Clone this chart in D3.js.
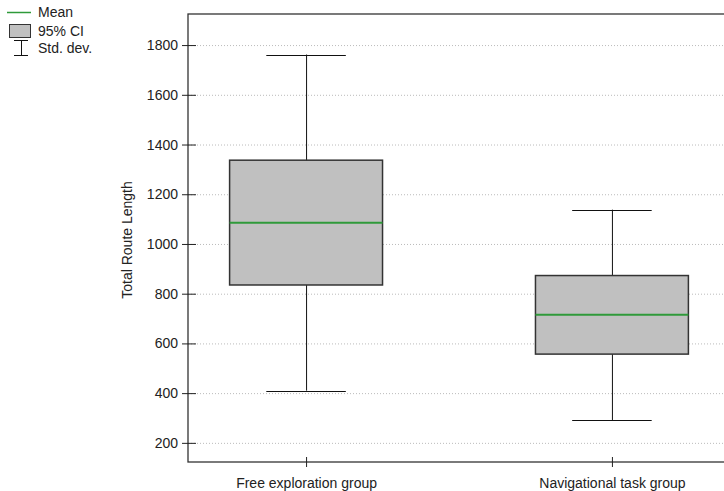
<!DOCTYPE html>
<html>
<head>
<meta charset="utf-8">
<script src="https://cdn.jsdelivr.net/npm/d3@7"></script>
<style>
  body { margin: 0; background: #fff; }
  text { font-family: "Liberation Sans", Arial, sans-serif; font-size: 14px; fill: #222; }
</style>
</head>
<body>
<div id="chart"></div>
<script>
// data
var groups = ["Free exploration group", "Navigational task group"];
var means = [1085, 715];
var ciLow = [835, 557];
var ciHigh = [1337, 873];
var sdLow = [410, 292];
var sdHigh = [1762, 1138];
var yTicks = [200, 400, 600, 800, 1000, 1200, 1400, 1600, 1800];

var W = 724, H = 491;
var margin = {top: 14, left: 188, bottom: 29};
var plotW = 542, plotH = H - margin.top - margin.bottom;

var svg = d3.select("#chart").append("svg")
  .attr("width", W).attr("height", H);

var g = svg.append("g")
  .attr("transform", "translate(" + margin.left + "," + margin.top + ")");

var x = d3.scalePoint().domain(groups).range([0, plotW]).padding(0.386);
var y = d3.scaleLinear().domain([123, 1925]).range([plotH, 0]);
var step = x.step();

// grid
g.selectAll(".grid").data(yTicks).enter().append("line")
  .attr("x1", 0).attr("x2", plotW)
  .attr("y1", function(d) { return y(d) + 0.5; })
  .attr("y2", function(d) { return y(d) + 0.5; })
  .attr("stroke", "#bbb").attr("stroke-dasharray", "1,2");

// whiskers
var idx = d3.range(groups.length);
var wh = g.selectAll(".wh").data(idx).enter().append("g");
wh.append("line")
  .attr("x1", function(i) { return x(groups[i]) + 0.5; })
  .attr("x2", function(i) { return x(groups[i]) + 0.5; })
  .attr("y1", function(i) { return y(sdHigh[i]); })
  .attr("y2", function(i) { return y(sdLow[i]); })
  .attr("stroke", "#111");
[sdHigh, sdLow].forEach(function(arr) {
  wh.append("line")
    .attr("x1", function(i) { return x(groups[i]) - step * 0.13; })
    .attr("x2", function(i) { return x(groups[i]) + step * 0.13; })
    .attr("y1", function(i) { return Math.round(y(arr[i])) + 0.5; })
    .attr("y2", function(i) { return Math.round(y(arr[i])) + 0.5; })
    .attr("stroke", "#111");
});

// CI boxes
g.selectAll(".box").data(idx).enter().append("rect")
  .attr("x", function(i) { return x(groups[i]) - step * 0.25; })
  .attr("width", step * 0.5)
  .attr("y", function(i) { return y(ciHigh[i]); })
  .attr("height", function(i) { return y(ciLow[i]) - y(ciHigh[i]); })
  .attr("fill", "#c0c0c0").attr("stroke", "#333").attr("stroke-width", 1.5);

// means
g.selectAll(".mean").data(idx).enter().append("line")
  .attr("x1", function(i) { return x(groups[i]) - step * 0.25; })
  .attr("x2", function(i) { return x(groups[i]) + step * 0.25; })
  .attr("y1", function(i) { return y(means[i]); })
  .attr("y2", function(i) { return y(means[i]); })
  .attr("stroke", "#2f9a3a").attr("stroke-width", 2);

// frame
g.append("rect").attr("x", 0).attr("y", 0)
  .attr("width", plotW).attr("height", plotH)
  .attr("fill", "none").attr("stroke", "#333").attr("stroke-width", 1.3);

// axes
var yAxis = g.append("g").call(d3.axisLeft(y).tickValues(yTicks).tickFormat(d3.format("d")).tickSize(6).tickPadding(4));
yAxis.select(".domain").remove();
yAxis.selectAll(".tick line").attr("x2", 8).attr("x1", -6).attr("stroke", "#222");
yAxis.selectAll("text").attr("font-size", 14).attr("fill", "#222").style("font-family", "Liberation Sans, Arial, sans-serif");

var xAxis = g.append("g").attr("transform", "translate(0," + plotH + ")")
  .call(d3.axisBottom(x).tickSize(5).tickPadding(11));
xAxis.select(".domain").remove();
xAxis.selectAll(".tick line").attr("y1", -5).attr("y2", 5).attr("stroke", "#222");
xAxis.selectAll("text").attr("font-size", 14).attr("fill", "#222").style("font-family", "Liberation Sans, Arial, sans-serif");

// y label
svg.append("text")
  .attr("transform", "translate(132," + (margin.top + plotH / 2 + 2) + ") rotate(-90)")
  .attr("text-anchor", "middle")
  .text("Total Route Length");

// legend
var lg = svg.append("g");
lg.append("line").attr("x1", 7).attr("x2", 31).attr("y1", 12.5).attr("y2", 12.5)
  .attr("stroke", "#2f9a3a").attr("stroke-width", 1.5);
lg.append("text").attr("x", 38).attr("y", 17).text("Mean");
lg.append("rect").attr("x", 9.5).attr("y", 24.5).attr("width", 21).attr("height", 13)
  .attr("fill", "#c0c0c0").attr("stroke", "#333");
lg.append("text").attr("x", 38).attr("y", 36).text("95% CI");
lg.append("line").attr("x1", 14).attr("x2", 28).attr("y1", 40.5).attr("y2", 40.5).attr("stroke", "#111");
lg.append("line").attr("x1", 21.5).attr("x2", 21.5).attr("y1", 40).attr("y2", 56).attr("stroke", "#111");
lg.append("line").attr("x1", 14).attr("x2", 28).attr("y1", 55.5).attr("y2", 55.5).attr("stroke", "#111");
lg.append("text").attr("x", 38).attr("y", 53).text("Std. dev.");
</script>
</body>
</html>
